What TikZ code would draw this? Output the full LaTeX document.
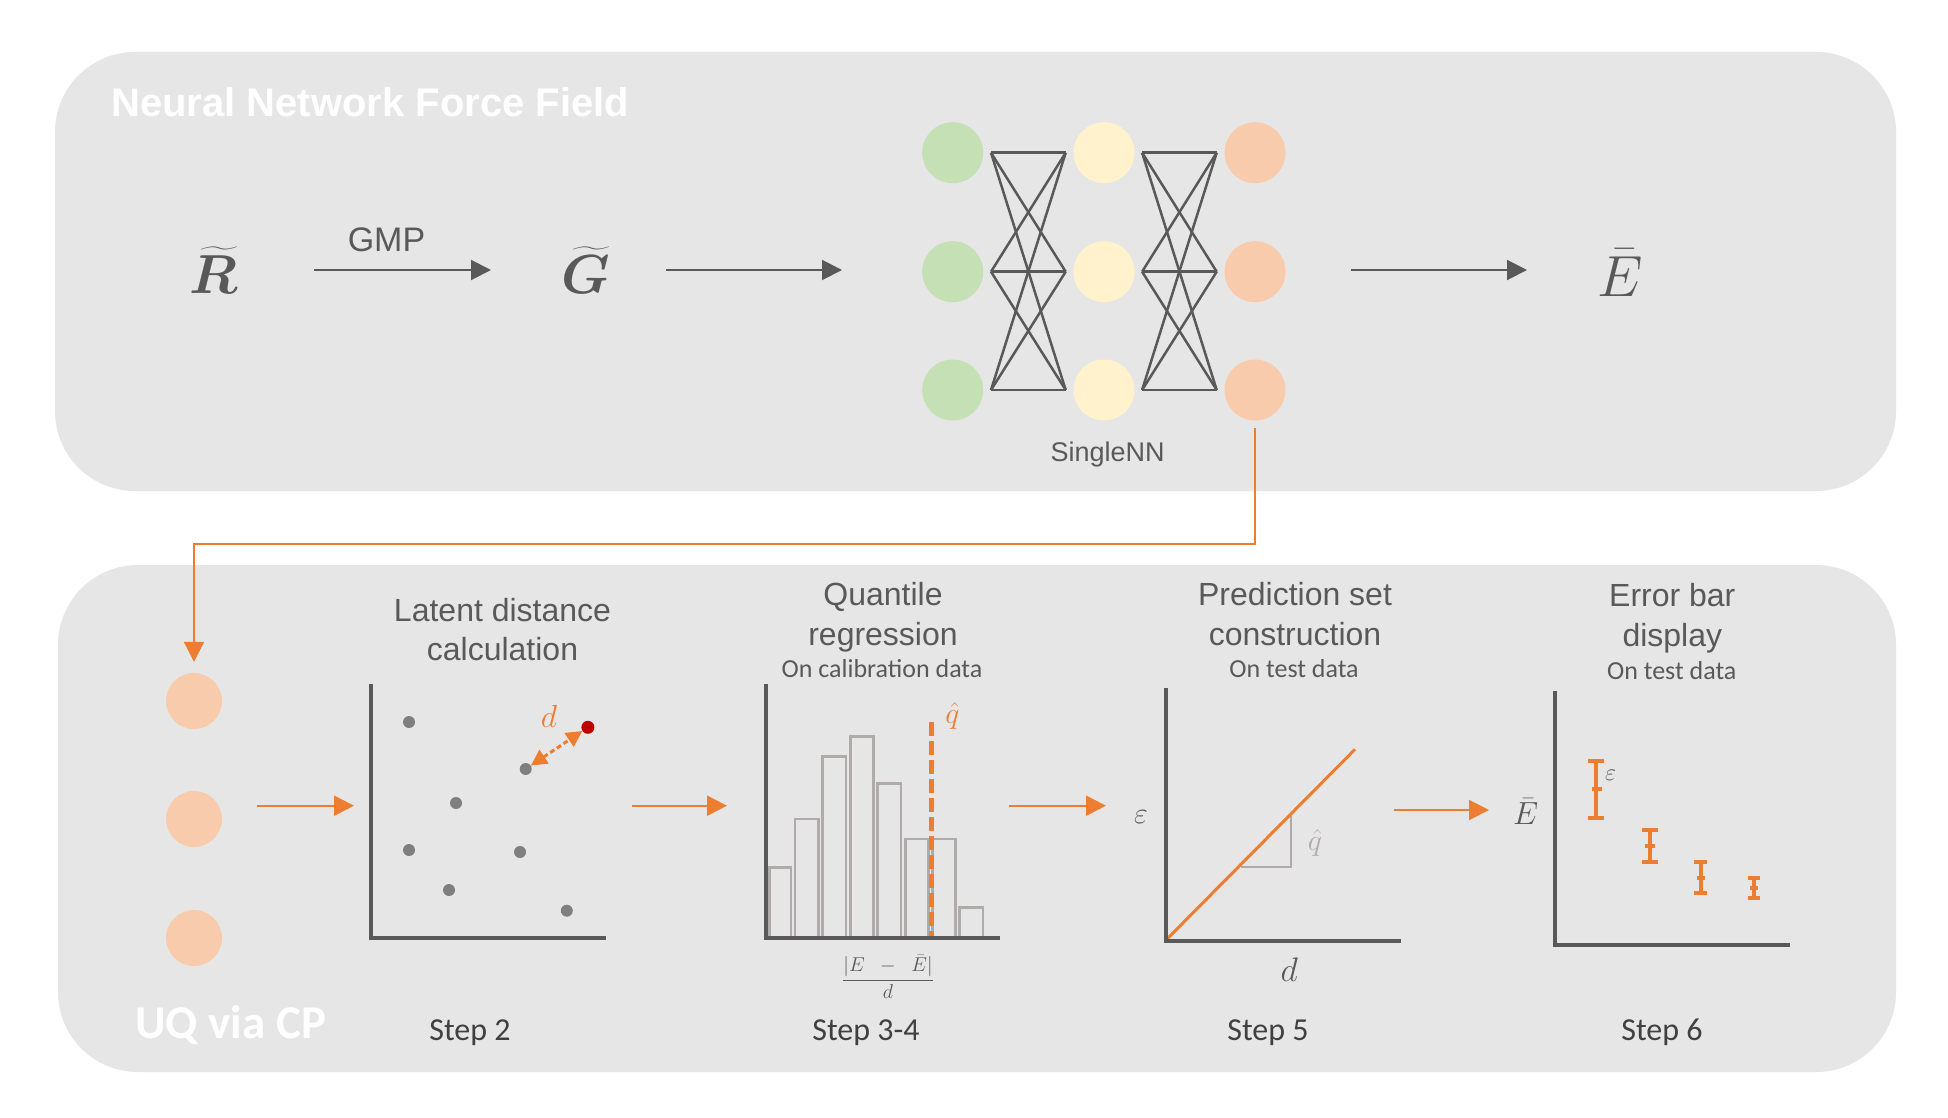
\RequirePackage{fix-cm}
\documentclass[tikz,border=0pt]{standalone}
\usepackage{amsmath,bm}
\usepackage{fontspec}
\setmainfont{Liberation Sans}
\newfontfamily\calibri{Carlito}
\usetikzlibrary{arrows.meta}
\definecolor{panel}{HTML}{E7E6E6}
\definecolor{dgray}{HTML}{595959}
\definecolor{txtgray}{HTML}{595959}
\definecolor{stepgray}{HTML}{404040}
\definecolor{orng}{HTML}{ED7D31}
\definecolor{ltgreen}{HTML}{C5E0B4}
\definecolor{ltyellow}{HTML}{FFF2CC}
\definecolor{ltorange}{HTML}{F8CBAD}
\definecolor{ptgray}{HTML}{7F7F7F}
\definecolor{bargray}{HTML}{AFABAB}
\definecolor{dred}{HTML}{C00000}
\begin{document}
\begin{tikzpicture}[x=1pt,y=-1pt,
  darrow/.style={draw=dgray,line width=2pt,-{Triangle[length=20pt,width=20pt]}},
  oarrow/.style={draw=orng,line width=2pt,-{Triangle[length=20pt,width=20pt]}},
  neuron/.style={circle,minimum size=61pt,inner sep=0pt,draw=none},
  nnlink/.style={draw=dgray,line width=2.5pt},
  axisline/.style={draw=dgray,line width=4pt},
  scatterdot/.style={circle,fill=ptgray,minimum size=12pt,inner sep=0pt},
  histbar/.style={draw=bargray,line width=2.5pt},
  ebar/.style={draw=orng,line width=4pt},
  plottitle/.style={anchor=base,text=txtgray,font=\fontsize{32}{38}\selectfont},
  plotsub/.style={anchor=base,text=txtgray,font=\calibri\fontsize{26}{30}\selectfont},
  steplabel/.style={anchor=base,text=stepgray,font=\calibri\fontsize{32}{38}\selectfont},
  bigmath/.style={anchor=base,text=dgray,font=\fontsize{55}{60}\selectfont,inner sep=0pt},
  axmath/.style={text=dgray,inner sep=0pt}
]
\useasboundingbox (0,0) rectangle (1948,1118);
\fill[white] (0,0) rectangle (1948,1118);

% panels
\fill[panel,rounded corners=80pt] (55,52) rectangle (1896,491);
\fill[panel,rounded corners=80pt] (58,565) rectangle (1896,1072);

% ---------- top panel ----------
\node[anchor=base west,text=white,font=\fontsize{40}{48}\selectfont\bfseries,inner sep=0pt] (nnff) at (111,116.7) {Neural Network Force Field};

\node[bigmath] (R) at (214,293) {$\bm{\widetilde{R}}$};
\node[bigmath] (G) at (586,293) {$\bm{\widetilde{G}}$};
\node[bigmath,font=\fontsize{58}{62}\selectfont] (Eb) at (1620,296) {$\bar{E}$};

\node[anchor=base,text=txtgray,font=\fontsize{34}{40}\selectfont] (gmp) at (386.5,251) {GMP};

\coordinate (a1s) at (314,270);
\coordinate (a1e) at (491,270);
\coordinate (a2s) at (666,270);
\coordinate (a2e) at (842,270);
\coordinate (a3s) at (1351,270);
\coordinate (a3e) at (1527,270);
\draw[darrow] (a1s) -- (a1e);
\draw[darrow] (a2s) -- (a2e);
\draw[darrow] (a3s) -- (a3e);

% neural network
\foreach \i/\yy in {1/152.7,2/271.7,3/390} {
  \node[neuron,fill=ltgreen] (g\i) at (952.7,\yy) {};
  \node[neuron,fill=ltyellow] (y\i) at (1104,\yy) {};
  \node[neuron,fill=ltorange] (o\i) at (1255,\yy) {};
}
\foreach \i in {1,2,3} {
  \foreach \j in {1,2,3} {
    \draw[nnlink] ([xshift=7.6pt]g\i.east) -- ([xshift=-7.6pt]y\j.west);
    \draw[nnlink] ([xshift=7.4pt]y\i.east) -- ([xshift=-7.6pt]o\j.west);
  }
}
\node[anchor=base,text=txtgray,font=\fontsize{27}{32}\selectfont] (snn) at (1107.7,461.7) {SingleNN};

% ---------- bottom panel ----------
\node[anchor=base west,text=white,font=\calibri\bfseries\fontsize{47}{52}\selectfont,inner sep=0pt] (uq) at (135,1038) {UQ via CP};

\node[neuron,minimum size=56pt,fill=ltorange] (c1) at (194,701) {};
\node[neuron,minimum size=56pt,fill=ltorange] (c2) at (194,819) {};
\node[neuron,minimum size=56pt,fill=ltorange] (c3) at (194,938) {};

\coordinate (bend) at (194,544);
\draw[oarrow] ([yshift=-7pt]o3.south) |- (bend) -- ([yshift=11pt]c1.north);

% stage arrows
\coordinate (b1s) at (257,805.7);  \coordinate (b1e) at (354,805.7);
\coordinate (b2s) at (632,805.7);  \coordinate (b2e) at (727,805.7);
\coordinate (b3s) at (1009,805.7); \coordinate (b3e) at (1106,805.7);
\coordinate (b4s) at (1394,810);   \coordinate (b4e) at (1489,810);
\draw[oarrow] (b1s) -- (b1e);
\draw[oarrow] (b2s) -- (b2e);
\draw[oarrow] (b3s) -- (b3e);
\draw[oarrow] (b4s) -- (b4e);

% ---- stage 2: latent distance ----
\node[plottitle] (t2a) at (502.5,621) {Latent distance};
\node[plottitle] (t2b) at (502.5,660) {calculation};
\draw[axisline] (371.4,684) -- (371.4,938) -- (606,938);
\node[scatterdot] (p1) at (409,722) {};
\node[scatterdot] (pA) at (525.7,769) {};
\node[scatterdot] (p3) at (456,803) {};
\node[scatterdot] (p4) at (409,850) {};
\node[scatterdot] (p5) at (520,852) {};
\node[scatterdot] (p6) at (449,890) {};
\node[scatterdot] (p7) at (566.8,910.7) {};
\node[scatterdot,fill=dred,minimum size=13pt] (pr) at (587.9,727.3) {};
\draw[orng,line width=3pt,dash pattern=on 5pt off 3pt,{Triangle[length=16pt,width=16pt]}-{Triangle[length=16pt,width=16pt]}] (pA) -- (pr);
\node[text=orng,font=\fontsize{32}{36}\selectfont] (dl) at (549,716) {$d$};
\node[steplabel] (s2) at (470,1040) {Step 2};

% ---- stage 3-4: quantile regression ----
\node[plottitle] (t3a) at (883,605) {Quantile};
\node[plottitle] (t3b) at (883,645) {regression};
\node[plotsub] (t3c) at (882,677.3) {On calibration data};
\draw[histbar] (769.3,937) rectangle (791,867.3);
\draw[histbar] (795,937) rectangle (818.7,819);
\draw[histbar] (822.7,937) rectangle (846,756.3);
\draw[histbar] (850.3,937) rectangle (873.3,736.7);
\draw[histbar] (877.7,937) rectangle (901,783.7);
\draw[histbar] (905.3,937) rectangle (928.7,839);
\draw[histbar] (932.3,937) rectangle (955.7,839);
\draw[histbar] (959.7,937) rectangle (983,907.3);
\draw[orng,line width=5pt,dash pattern=on 14pt off 5pt] (931.7,722.3) -- (931.7,936);
\draw[axisline] (765.7,684.3) -- (765.7,938) -- (1000,938);
\node[text=orng,font=\fontsize{30}{34}\selectfont] (qh) at (952.3,716) {$\hat{q}$};
\node[axmath,font=\fontsize{20}{24}\selectfont] (frac) at (888,977) {$\dfrac{|E\;\;-\;\;\bar{E}|}{d}$};
\node[steplabel] (s34) at (866,1040) {Step 3-4};

% ---- stage 5: prediction set ----
\node[plottitle] (t4a) at (1295,605) {Prediction set};
\node[plottitle] (t4b) at (1295,645) {construction};
\node[plotsub] (t4c) at (1294,677) {On test data};
\draw[bargray,line width=2.5pt] (1241,867) -- (1291,867) -- (1291,816);
\draw[orng,line width=3pt] (1167,939) -- (1355,749.3);
\draw[axisline] (1166,687.7) -- (1166,940.7) -- (1400.7,940.7);
\node[text=bargray,font=\fontsize{30}{34}\selectfont] (qh2) at (1315,843.3) {$\hat{q}$};
\node[axmath,font=\fontsize{30}{34}\selectfont] (eps1) at (1141,816.7) {$\varepsilon$};
\node[axmath,font=\fontsize{34}{38}\selectfont] (dax) at (1289.3,970) {$d$};
\node[steplabel] (s5) at (1268,1040) {Step 5};

% ---- stage 6: error bars ----
\node[plottitle] (t5a) at (1672.3,606.7) {Error bar};
\node[plottitle] (t5b) at (1672.3,646.7) {display};
\node[plotsub] (t5c) at (1671.7,679) {On test data};
\draw[axisline] (1555,691) -- (1555,945) -- (1790,945);
\draw[ebar] (1588.3,760.7) -- (1604,760.7) (1596,760.7) -- (1596,818.3) (1588.3,818.3) -- (1604,818.3) (1591.5,789.3) -- (1601.5,789.3);
\draw[ebar] (1642.3,830) -- (1657.7,830) (1650,830) -- (1650,862.3) (1642.3,862.3) -- (1657.7,862.3) (1644.7,846) -- (1655.3,846);
\draw[ebar] (1694.3,862.3) -- (1707,862.3) (1700.7,862.3) -- (1700.7,893.3) (1694.3,893.3) -- (1707,893.3) (1696.7,877.7) -- (1704.7,877.7);
\draw[ebar] (1748.2,878.3) -- (1760.4,878.3) (1754.3,878.3) -- (1754.3,898.3) (1748.2,898.3) -- (1760.4,898.3) (1750.3,888.3) -- (1758.3,888.3);
\node[axmath,font=\fontsize{24}{28}\selectfont] (eps2) at (1610.7,775) {$\varepsilon$};
\node[axmath,font=\fontsize{32}{36}\selectfont] (Eax) at (1525.7,811.7) {$\bar{E}$};
\node[steplabel] (s6) at (1662,1040) {Step 6};
\end{tikzpicture}
\end{document}
